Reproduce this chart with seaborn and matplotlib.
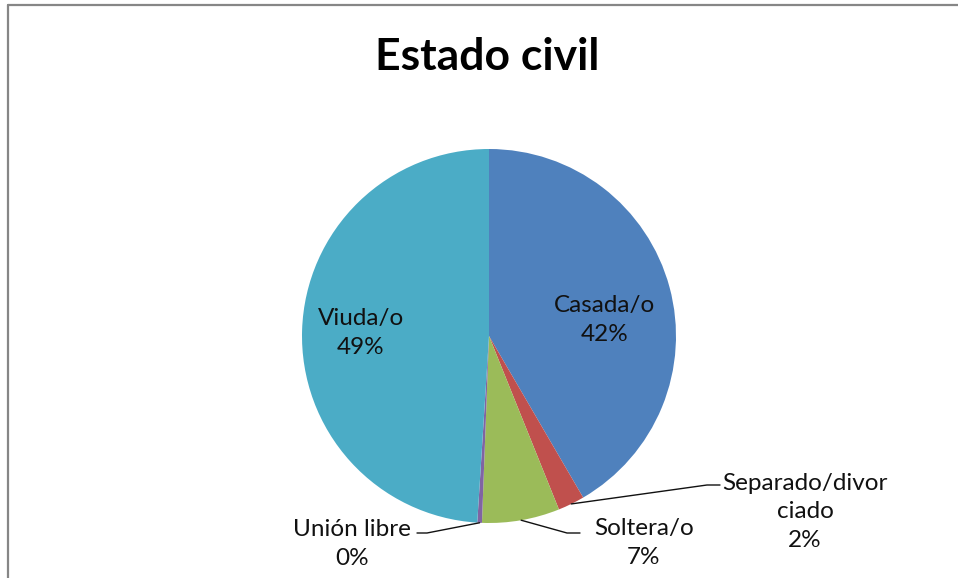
import numpy as np
import matplotlib.pyplot as plt
import seaborn as sns

# Datos
categorias = ["Casada/o", "Separado/divorciado", "Soltera/o", "Unión libre", "Viuda/o"]
porcentajes = [41.6, 2.3, 6.7, 0.4, 49.0]
textos = ["Casada/o", "Separado/divor\nciado", "Soltera/o", "Unión libre", "Viuda/o"]
colores = ["#4F81BD", "#C0504D", "#9BBB59", "#8064A2", "#4BACC6"]

sns.set_theme(style="white")
plt.rcParams['font.family'] = ['Lato', 'DejaVu Sans']

W, H = 958, 578
fig = plt.figure(figsize=(W / 100, H / 100), dpi=100)
ax = fig.add_axes([0, 0, 1, 1])


def px(x, y):
    # pixel (desde arriba) -> datos
    return x, H - y


centro = px(489, 336)
radio = 187

wedges, _ = ax.pie(
    porcentajes,
    colors=colores,
    startangle=90,
    counterclock=False,
    center=centro,
    radius=radio,
    wedgeprops=dict(linewidth=0),
    frame=True,
)
ax.set_xlim(0, W)
ax.set_ylim(0, H)
ax.axis("off")

# posicion de etiquetas (centro del texto, pixeles) y lineas guia
pos_texto = {
    "Casada/o": (605, 320),
    "Separado/divorciado": (805, 512),
    "Soltera/o": (644, 543),
    "Unión libre": (352, 544),
    "Viuda/o": (361, 333),
}
guias = {
    "Separado/divorciado": [(707, 485), (720, 485)],
    "Soltera/o": [(567, 533), (580, 533)],
    "Unión libre": [(427, 533), (417, 533)],
}

for w, cat, txt, val in zip(wedges, categorias, textos, porcentajes):
    etiqueta = f"{txt}\n{val:.0f}%"
    x, y = px(*pos_texto[cat])
    ax.text(x, y, etiqueta, ha="center", va="center", fontsize=17.5,
            color="#111111", linespacing=1.45)
    if cat in guias:
        ang = np.deg2rad((w.theta1 + w.theta2) / 2)
        x0 = centro[0] + radio * np.cos(ang)
        y0 = centro[1] + radio * np.sin(ang)
        pts = [(x0, y0)] + [px(*p) for p in guias[cat]]
        xs, ys = zip(*pts)
        ax.plot(xs, ys, color="#111111", lw=1.0)

# titulo
ax.text(*px(487, 57), "Estado civil", ha="center", va="center",
        fontsize=32, fontweight="bold", color="black")

# borde del grafico
fig.add_artist(plt.Line2D([8 / W, 8 / W], [0, 1 - 5 / H], transform=fig.transFigure,
                          color="#868686", lw=1.6))
fig.add_artist(plt.Line2D([8 / W, 1], [1 - 5 / H, 1 - 5 / H], transform=fig.transFigure,
                          color="#868686", lw=1.6))

plt.savefig("out.png", dpi=100)
plt.close()
